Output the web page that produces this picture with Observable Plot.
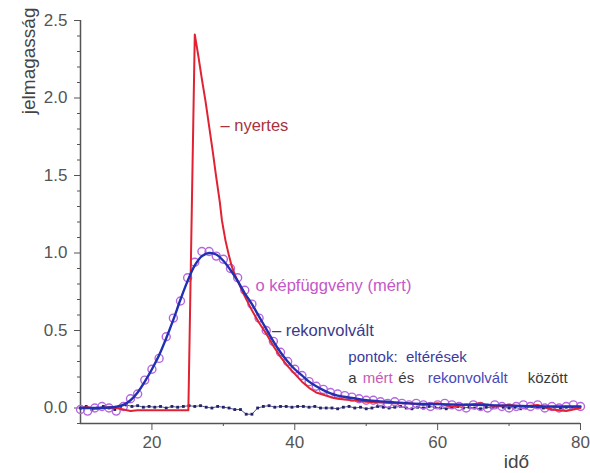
<!DOCTYPE html>
<html>
<head>
<meta charset="utf-8">
<script src="https://cdn.jsdelivr.net/npm/d3@7"></script>
<script src="https://cdn.jsdelivr.net/npm/@observablehq/plot@0.6"></script>
<style>
  html, body { margin: 0; padding: 0; background: #fff; }
</style>
</head>
<body>
<div id="chart"></div>
<script>
// Ticks
const xTicks = [20, 40, 60, 80];
const xMinor = [30, 50, 70];
const yTicks = [0.0, 0.5, 1.0, 1.5, 2.0, 2.5];
const yMinor = [-0.1, 0.1, 0.2, 0.3, 0.4, 0.6, 0.7, 0.8, 0.9, 1.1, 1.2, 1.3, 1.4, 1.6, 1.7, 1.8, 1.9, 2.1, 2.2, 2.3, 2.4];

// nyertes (red)
const redX = [10, 11, 12, 13, 14, 15, 16, 17, 18, 19, 20, 21, 22, 23, 24, 25.1, 26.0, 26.5, 27, 27.5, 28, 28.5, 29, 29.5, 29.8, 30.3, 30.8, 31.2, 31.7, 32.5, 33, 34, 35, 36, 37, 38, 39, 40, 41, 42, 43, 44, 45, 46, 47, 48, 49, 50, 52, 54, 56, 58, 60, 62, 64, 66, 68, 70, 72, 74, 76, 78, 80];
const redY = [0.0, 0.005, -0.005, 0.0, 0.005, 0.0, -0.01, -0.02, -0.015, -0.015, -0.015, -0.015, -0.015, -0.015, -0.015, -0.015, 2.41, 2.27, 2.12, 1.98, 1.82, 1.66, 1.49, 1.33, 1.21, 1.08, 0.98, 0.91, 0.85, 0.77, 0.72, 0.63, 0.55, 0.48, 0.40, 0.33, 0.27, 0.22, 0.17, 0.13, 0.10, 0.085, 0.07, 0.06, 0.055, 0.05, 0.045, 0.04, 0.035, 0.03, 0.03, 0.02, 0.03, 0.01, 0.02, 0.03, 0.01, 0.02, 0.01, 0.02, -0.01, -0.02, 0.0];

// rekonvolvált (blue)
const blueX = [10, 12, 14, 15, 16, 17, 18, 19, 20, 21, 22, 23, 24, 25, 26, 27, 28, 29, 30, 31, 32, 33, 34, 35, 36, 37, 38, 39, 40, 41, 42, 43, 44, 45, 46, 48, 50, 53, 56, 60, 65, 70, 75, 80];
const blueY = [0.0, 0.0, 0.003, 0.008, 0.02, 0.05, 0.10, 0.17, 0.25, 0.34, 0.45, 0.57, 0.70, 0.82, 0.92, 0.98, 1.00, 0.99, 0.95, 0.89, 0.82, 0.74, 0.67, 0.59, 0.51, 0.43, 0.36, 0.30, 0.25, 0.21, 0.17, 0.14, 0.115, 0.095, 0.08, 0.065, 0.05, 0.04, 0.03, 0.025, 0.02, 0.015, 0.01, 0.01];

// képfüggvény (mért) circles
const mertX = [10, 11, 12, 13, 14, 15, 16, 17, 18, 19, 20, 21, 22, 23, 24, 25, 26, 27, 28, 29, 30, 31, 32, 33, 34, 35, 36, 37, 38, 39, 40, 41, 42, 43, 44, 45, 46, 47, 48, 49, 50, 51, 52, 53, 54, 55, 56, 57, 58, 59, 60, 61, 62, 63, 64, 65, 66, 67, 68, 69, 70, 71, 72, 73, 74, 75, 76, 77, 78, 79, 80];
const mertY = [-0.01, -0.02, 0.0, 0.01, 0.0, -0.02, 0.01, 0.06, 0.09, 0.18, 0.25, 0.32, 0.46, 0.58, 0.69, 0.84, 0.94, 1.01, 1.01, 0.98, 0.96, 0.90, 0.84, 0.76, 0.67, 0.58, 0.50, 0.43, 0.36, 0.30, 0.25, 0.21, 0.17, 0.14, 0.12, 0.10, 0.09, 0.08, 0.07, 0.06, 0.05, 0.05, 0.04, 0.03, 0.04, 0.03, 0.02, 0.03, 0.02, 0.01, 0.02, 0.03, 0.02, 0.01, 0.0, 0.02, 0.01, 0.0, 0.02, 0.01, 0.0, 0.01, 0.02, 0.01, 0.02, 0.0, 0.01, 0.0, 0.01, 0.02, 0.01];

// eltérések (residual points)
const resX = [10.0, 10.8, 11.6, 12.4, 13.2, 14.0, 14.8, 15.6, 16.4, 17.2, 18.0, 18.8, 19.6, 20.4, 21.2, 22.0, 22.8, 23.6, 24.4, 25.2, 26.0, 26.8, 27.6, 28.4, 29.2, 30.0, 30.8, 31.6, 32.4, 33.2, 34.0, 34.8, 35.6, 36.4, 37.2, 38.0, 38.8, 39.6, 40.4, 41.2, 42.0, 42.8, 43.6, 44.4, 45.2, 46.0, 46.8, 47.6, 48.4, 49.2, 50.0, 50.8, 51.6, 52.4, 53.2, 54.0, 54.8, 55.6, 56.4, 57.2, 58.0, 58.8, 59.6, 60.4, 61.2, 62.0, 62.8, 63.6, 64.4, 65.2, 66.0, 66.8, 67.6, 68.4, 69.2, 70.0, 70.8, 71.6, 72.4, 73.2, 74.0, 74.8, 75.6, 76.4, 77.2, 78.0, 78.8, 79.6];
const resY = [0.0, 0.01, -0.01, 0.0, 0.01, 0.0, -0.01, 0.01,
  0.02, 0.01, 0.015, 0.005, 0.01, 0.005, 0.01, 0.0, 0.01, 0.005, 0.01, 0.015,
  0.01, 0.015, 0.005, 0.0, 0.01, 0.005, 0.0, -0.01,
  -0.01, -0.04, -0.04, 0.0,
  0.01, 0.015, 0.005, 0.01, 0.01, 0.005, 0.01, 0.01, 0.005, 0.01, 0.0, 0.0,
  0.0, -0.005, 0.005, 0.01, 0.0, 0.005, -0.005, 0.0, 0.01, 0.005, 0.0, 0.005, 0.01, 0.0, -0.005, 0.005, 0.0, 0.01, 0.005, 0.0, -0.005, 0.005,
  0.01, 0.0, 0.005, 0.0, -0.005, 0.005, 0.0, 0.01, 0.005, 0.0, 0.005, -0.005, 0.0, 0.01, 0.005, 0.0, -0.005, 0.005, 0.0, 0.005, 0.0, 0.005];

const red = redX.map((x, i) => ({x, y: redY[i]}));
const blue = blueX.map((x, i) => ({x, y: blueY[i]}));
const mert = mertX.map((x, i) => ({x, y: mertY[i]}));
const res = resX.map((x, i) => ({x, y: resY[i]}));

const font = "'Liberation Sans', Arial, sans-serif";
const axisColor = "#555";

const chart = Plot.plot({
  width: 590,
  height: 473,
  marginLeft: 80,
  marginRight: 10,
  marginTop: 20,
  marginBottom: 50,
  style: {fontFamily: font, background: "#fff", overflow: "visible"},
  x: {domain: [10, 80]},
  y: {domain: [-0.1, 2.5]},
  marks: [
    // axes
    Plot.axisY(yTicks, {tickSize: 6, tickPadding: 7, tickFormat: d3.format(".1f"), fontSize: 17, color: axisColor, label: null}),
    Plot.axisY(yMinor, {tickSize: 3, tickFormat: () => "", color: axisColor, label: null}),
    Plot.axisX(xTicks, {tickSize: 7, tickPadding: 5, fontSize: 17, color: axisColor, label: null}),
    Plot.axisX(xMinor, {tickSize: 3, tickFormat: () => "", color: axisColor, label: null}),
    Plot.ruleX([10], {stroke: axisColor, strokeWidth: 1.5}),
    Plot.ruleY([-0.1], {stroke: axisColor, strokeWidth: 1.5}),
    // data
    Plot.line(res, {x: "x", y: "y", stroke: "#2a2a70", strokeWidth: 0.8}),
    Plot.dot(res, {x: "x", y: "y", symbol: "square", r: 1.6, fill: "#22226a", stroke: "none"}),
    Plot.dot(mert, {x: "x", y: "y", r: 4, stroke: "#b466e0", strokeWidth: 1.4, fill: "none"}),
    Plot.line(red, {x: "x", y: "y", stroke: "#e02232", strokeWidth: 2}),
    Plot.line(blue, {x: "x", y: "y", stroke: "#2030b0", strokeWidth: 2.4, curve: "catmull-rom"}),
    // axis titles
    Plot.text(["jelmagasság"], {frameAnchor: "top-left", rotate: -90, textAnchor: "end", dx: -59, dy: -13, fontSize: 19, fill: "#444"}),
    Plot.text(["idő"], {frameAnchor: "bottom-right", textAnchor: "middle", lineAnchor: "top", dx: -64, dy: 31, fontSize: 19, fill: "#444"}),
    // annotations
    Plot.text(["– nyertes"], {x: 29.6, y: 1.82, textAnchor: "start", fontSize: 16.5, fill: "#a8323f"}),
    Plot.text(["o képfüggvény (mért)"], {x: 34.5, y: 0.79, textAnchor: "start", fontSize: 16.5, fill: "#c458c8"}),
    Plot.text(["– rekonvolvált"], {x: 36.8, y: 0.50, textAnchor: "start", fontSize: 16.5, fill: "#3a3a8c"}),
    Plot.text(["pontok:  eltérések"], {x: 47.5, y: 0.326, textAnchor: "start", fontSize: 15, fill: "#3a3aa0"}),
    Plot.text(["a"], {x: 47.5, y: 0.19, textAnchor: "start", fontSize: 15, fill: "#3a3a3a"}),
    Plot.text(["mért"], {x: 49.5, y: 0.19, textAnchor: "start", fontSize: 15, fill: "#c858b8"}),
    Plot.text(["és"], {x: 54.5, y: 0.19, textAnchor: "start", fontSize: 15, fill: "#3a3a3a"}),
    Plot.text(["rekonvolvált"], {x: 58.6, y: 0.19, textAnchor: "start", fontSize: 15, fill: "#4848b8"}),
    Plot.text(["között"], {x: 72.6, y: 0.19, textAnchor: "start", fontSize: 15, fill: "#3a3a3a"})
  ]
});
document.getElementById("chart").append(chart);
</script>
</body>
</html>
